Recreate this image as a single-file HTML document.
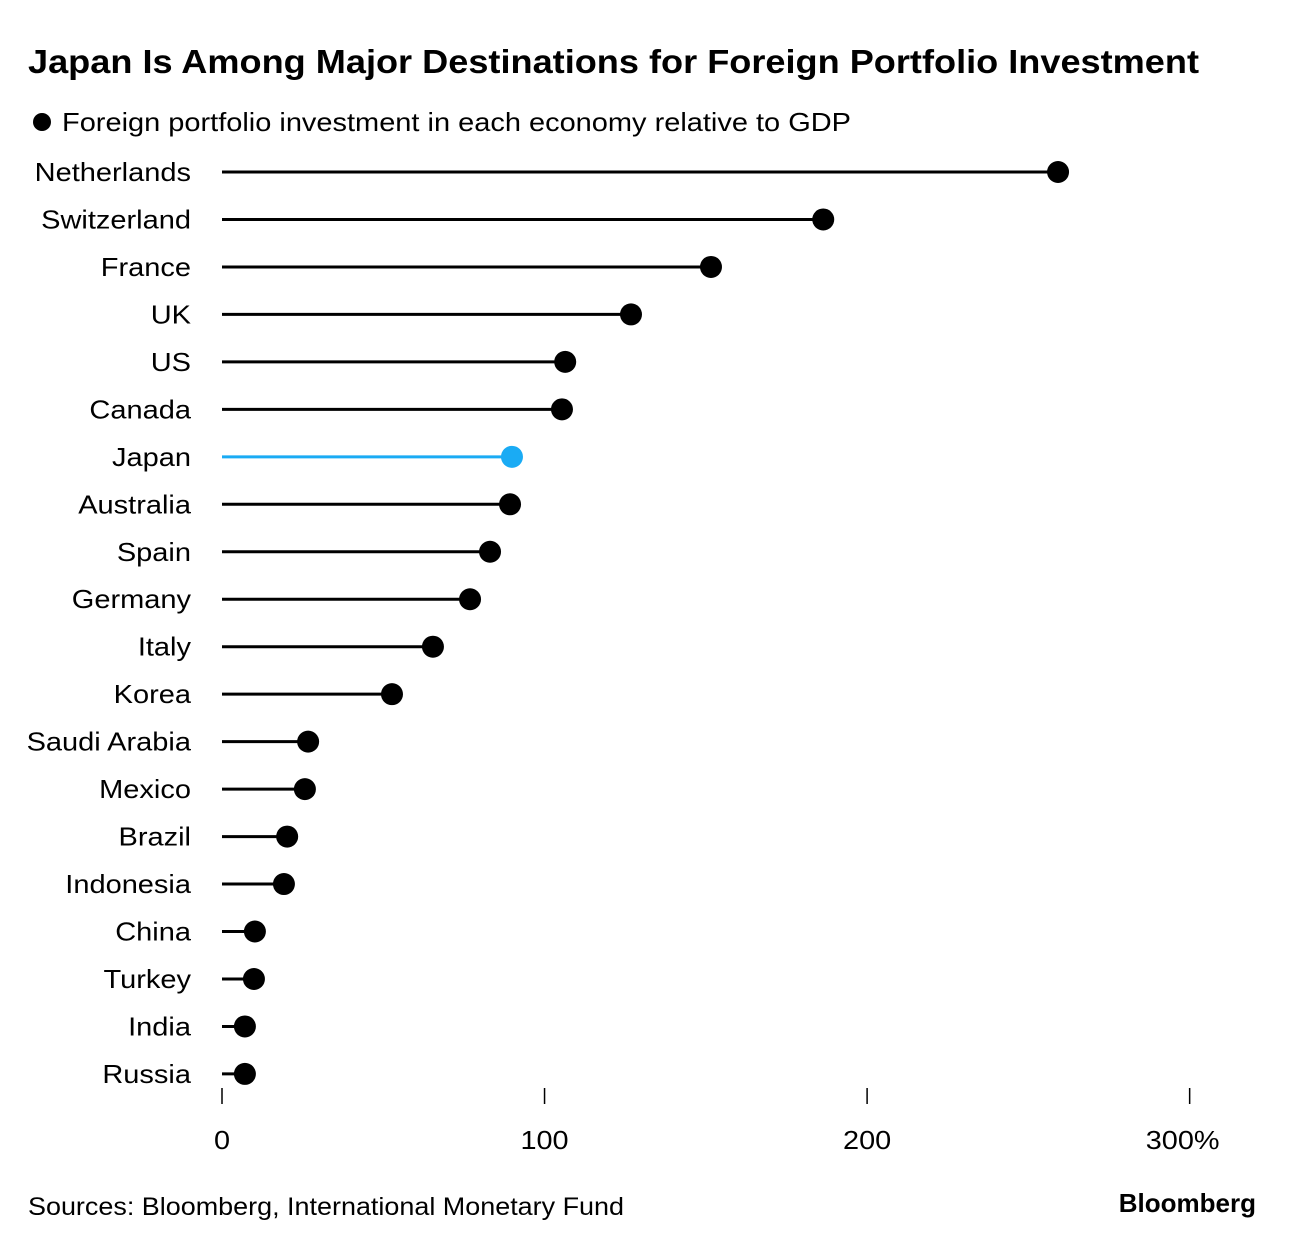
<!DOCTYPE html>
<html><head><meta charset="utf-8"><style>
body{margin:0;background:#fff;font-family:"Liberation Sans",sans-serif;}
svg text{font-family:"Liberation Sans",sans-serif;}
</style></head><body>
<svg id="chart" width="1296" height="1248" xmlns="http://www.w3.org/2000/svg">
<text x="28" y="73" font-size="33" font-weight="bold" fill="#000" textLength="1171" lengthAdjust="spacingAndGlyphs">Japan Is Among Major Destinations for Foreign Portfolio Investment</text>
<circle cx="42" cy="122" r="9" fill="#000"/>
<text x="62" y="131" font-size="26" fill="#000" textLength="789" lengthAdjust="spacingAndGlyphs">Foreign portfolio investment in each economy relative to GDP</text>
<g id="marks"></g>
<g id="axis"></g>
<text x="28" y="1215" font-size="25" fill="#000" textLength="596" lengthAdjust="spacingAndGlyphs">Sources: Bloomberg, International Monetary Fund</text>
<text x="1256" y="1212" font-size="26" font-weight="bold" text-anchor="end" fill="#000">Bloomberg</text>
</svg>
<script>
const categories=["Netherlands","Switzerland","France","UK","US","Canada","Japan","Australia","Spain","Germany","Italy","Korea","Saudi Arabia","Mexico","Brazil","Indonesia","China","Turkey","India","Russia"];
const values=[259.2,186.4,151.6,126.8,106.4,105.4,89.9,89.3,83.1,76.9,65.4,52.7,26.7,25.7,20.2,19.2,10.2,9.9,7.1,7.1];
const highlight=["Japan"];
const tickValues=[0,100,200,300];
const tickLabels=["0","100","200","300%"];
const NS="http://www.w3.org/2000/svg";
const x=v=>222+v*3.2255;
const y=i=>172+i*47.47;
const marks=document.getElementById('marks'),axis=document.getElementById('axis');
function mk(t,a,p){const e=document.createElementNS(NS,t);for(const k in a)e.setAttribute(k,a[k]);p.appendChild(e);return e;}
function widen(e,f){const w=e.getComputedTextLength();e.setAttribute('textLength',w*f);e.setAttribute('lengthAdjust','spacingAndGlyphs');}
categories.forEach((c,i)=>{
  const col=highlight.includes(c)?"#1aabf4":"#000";
  const lab=mk('text',{x:191,y:y(i)+9,'font-size':26,'text-anchor':'end',fill:'#000'},marks);
  lab.textContent=c;
  
  
  widen(lab,1.115);
  const ln=mk('line',{x1:x(0),x2:x(values[i]),y1:y(i),y2:y(i),stroke:col,'stroke-width':3},marks);
  
  
  const d=mk('circle',{cx:x(values[i]),cy:y(i),r:11,fill:col},marks);
  
  
});
tickValues.forEach((v,i)=>{
  const t=mk('line',{x1:x(v),x2:x(v),y1:1088,y2:1104,stroke:'#000','stroke-width':1.5},axis);
  
  
  const l=mk('text',{x:x(v)+(i==3?-7:0),y:1149,'font-size':26,'text-anchor':'middle',fill:'#000'},axis);
  l.textContent=tickLabels[i];
  
  
  widen(l,1.11);
});
</script>
</body></html>
